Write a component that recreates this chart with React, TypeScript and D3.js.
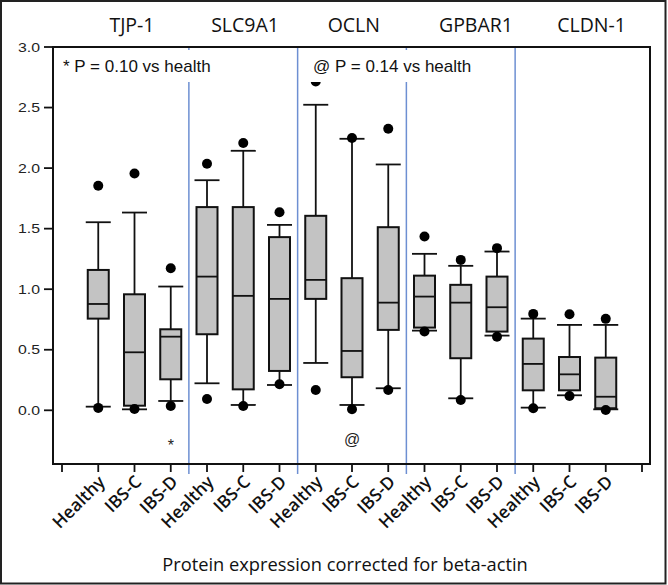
import React from "react";
import * as d3 from "d3";

const genes = ["TJP-1", "SLC9A1", "OCLN", "GPBAR1", "CLDN-1"];
const groups = ["Healthy", "IBS-C", "IBS-D"];
// approximate slot position of each gene title (in category slot units)
const geneTitleSlot = [1.93, 5.05, 8.05, 11.42, 14.61];

// 15 boxes: gene-major, group-minor
const lowOutlier = [0.02, 0.01, 0.036, 0.093, 0.036, 0.215, 0.168, 0.008, 0.168, 0.65, 0.085, 0.608, 0.017, 0.118, 0.003];
const whiskerLow = [0.03, 0.008, 0.077, 0.223, 0.044, 0.209, 0.391, 0.044, 0.182, 0.658, 0.099, 0.617, 0.022, 0.124, 0.008];
const q1 = [0.757, 0.038, 0.256, 0.628, 0.173, 0.325, 0.92, 0.273, 0.664, 0.683, 0.43, 0.65, 0.165, 0.165, 0.017];
const median = [0.878, 0.479, 0.608, 1.104, 0.945, 0.92, 1.077, 0.49, 0.889, 0.939, 0.889, 0.851, 0.383, 0.297, 0.112];
const q3 = [1.159, 0.958, 0.669, 1.678, 1.678, 1.43, 1.606, 1.091, 1.512, 1.112, 1.036, 1.104, 0.592, 0.44, 0.435];
const whiskerHigh = [1.553, 1.633, 1.022, 1.9, 2.143, 1.531, 2.523, 2.242, 2.03, 1.292, 1.193, 1.311, 0.757, 0.705, 0.705];
const highOutlier = [1.854, 1.955, 1.173, 2.036, 2.207, 1.636, 2.716, 2.248, 2.325, 1.435, 1.242, 1.339, 0.796, 0.793, 0.755];

const yTicks = [0, 0.5, 1.0, 1.5, 2.0, 2.5, 3.0];

const noteTexts = ["* P = 0.10 vs health", "@ P = 0.14 vs health"];
const noteMarks = ["*", "@"];
const noteMarkIndex = [2, 7];
const noteMarkValue = [-0.335, -0.29];

const xTitle = "Protein expression corrected for beta-actin";

export default function App() {
  const W = 668;
  const H = 585;
  const left = 53, right = 650, top = 47, bottom = 464;

  const x = d3.scaleLinear().domain([0, 16]).range([62, 642]);
  const y = d3.scaleLinear().domain([0, 3]).range([410.3, 47]);

  const cats = d3.range(15).map((i) => ({
    i,
    gene: genes[Math.floor(i / 3)],
    group: groups[i % 3],
    cx: x(i + 1),
  }));

  const boxW = 21;
  const capW = 25;
  const blue = "#6d8fd2";
  const arial = "'Liberation Sans', Arial, sans-serif";
  const sans = "'Open Sans', 'Noto Sans', sans-serif";

  const separators = d3.range(1, 5).map((g) => (x(3 * g) + x(3 * g + 1)) / 2);

  return (
    <div>
      <style>{`body{margin:0;}`}</style>
      <svg width={W} height={H} style={{ display: "block" }}>
        <rect x={0} y={0} width={W} height={H} fill="#fff" />
        {/* outer border */}
        <rect x={1} y={1} width={664.5} height={582.5} fill="none" stroke="#222" strokeWidth={2} />

        {/* gene titles */}
        {genes.map((g, k) => (
          <text key={g} x={x(geneTitleSlot[k])} y={32} textAnchor="middle" fontFamily={sans} fontSize={19.5} fill="#111">
            {g}
          </text>
        ))}

        {/* separators */}
        {separators.map((sx, k) => (
          <line key={k} x1={sx} x2={sx} y1={top} y2={474} stroke={blue} strokeWidth={1.5} />
        ))}

        {/* plot frame */}
        <rect x={left} y={top} width={right - left} height={bottom - top} fill="none" stroke="#111" strokeWidth={2} />

        {/* y axis ticks */}
        {yTicks.map((t) => (
          <g key={t}>
            <line x1={left - 9} x2={left} y1={y(t)} y2={y(t)} stroke="#111" strokeWidth={1.8} />
            <text
              x={40}
              y={y(t) + 4.5}
              textAnchor="end"
              fontFamily={arial}
              fontSize={13}
              textLength={22}
              lengthAdjust="spacingAndGlyphs"
              fill="#222"
            >
              {t.toFixed(1)}
            </text>
          </g>
        ))}

        {/* x axis ticks */}
        {d3.range(17).map((k) => (
          <line key={k} x1={x(k)} x2={x(k)} y1={bottom} y2={472} stroke="#111" strokeWidth={1.8} />
        ))}

        {/* boxes */}
        {cats.map((c) => {
          const i = c.i;
          return (
            <g key={i}>
              <line x1={c.cx} x2={c.cx} y1={y(whiskerHigh[i])} y2={y(q3[i])} stroke="#111" strokeWidth={1.8} />
              <line x1={c.cx} x2={c.cx} y1={y(q1[i])} y2={y(whiskerLow[i])} stroke="#111" strokeWidth={1.8} />
              <line x1={c.cx - capW / 2} x2={c.cx + capW / 2} y1={y(whiskerHigh[i])} y2={y(whiskerHigh[i])} stroke="#111" strokeWidth={1.8} />
              <line x1={c.cx - capW / 2} x2={c.cx + capW / 2} y1={y(whiskerLow[i])} y2={y(whiskerLow[i])} stroke="#111" strokeWidth={1.8} />
              <rect
                x={c.cx - boxW / 2}
                y={y(q3[i])}
                width={boxW}
                height={y(q1[i]) - y(q3[i])}
                fill="#c3c3c3"
                stroke="#111"
                strokeWidth={2}
              />
              <line x1={c.cx - boxW / 2} x2={c.cx + boxW / 2} y1={y(median[i])} y2={y(median[i])} stroke="#111" strokeWidth={1.8} />
              <circle cx={c.cx} cy={y(highOutlier[i])} r={5} fill="#000" />
              <circle cx={c.cx} cy={y(lowOutlier[i])} r={5} fill="#000" />
            </g>
          );
        })}

        {/* significance marks below boxes */}
        {noteMarks.map((m, k) => (
          <text key={m} x={x(noteMarkIndex[k] + 1)} y={y(noteMarkValue[k])} textAnchor="middle" fontFamily={arial} fontSize={16} fill="#222">
            {m}
          </text>
        ))}

        {/* notes with white background */}
        <rect x={57} y={50} width={160} height={32} fill="#fff" />
        <text x={63} y={72} fontFamily={arial} fontSize={17} fill="#111">
          {noteTexts[0]}
        </text>
        <rect x={305} y={50} width={166} height={32} fill="#fff" />
        <text x={313} y={72} fontFamily={arial} fontSize={17} fill="#111">
          {noteTexts[1]}
        </text>

        {/* x tick labels */}
        {cats.map((c) => (
          <text
            key={c.i}
            transform={`translate(${c.cx + 8},${483}) rotate(-45)`}
            textAnchor="end"
            fontFamily={sans}
            fontSize={17.5}
            fontWeight={600}
            fill="#111"
          >
            {c.group}
          </text>
        ))}

        {/* x axis title */}
        <text x={345} y={571} textAnchor="middle" fontFamily={sans} fontSize={18.3} fill="#111">
          {xTitle}
        </text>
      </svg>
    </div>
  );
}
